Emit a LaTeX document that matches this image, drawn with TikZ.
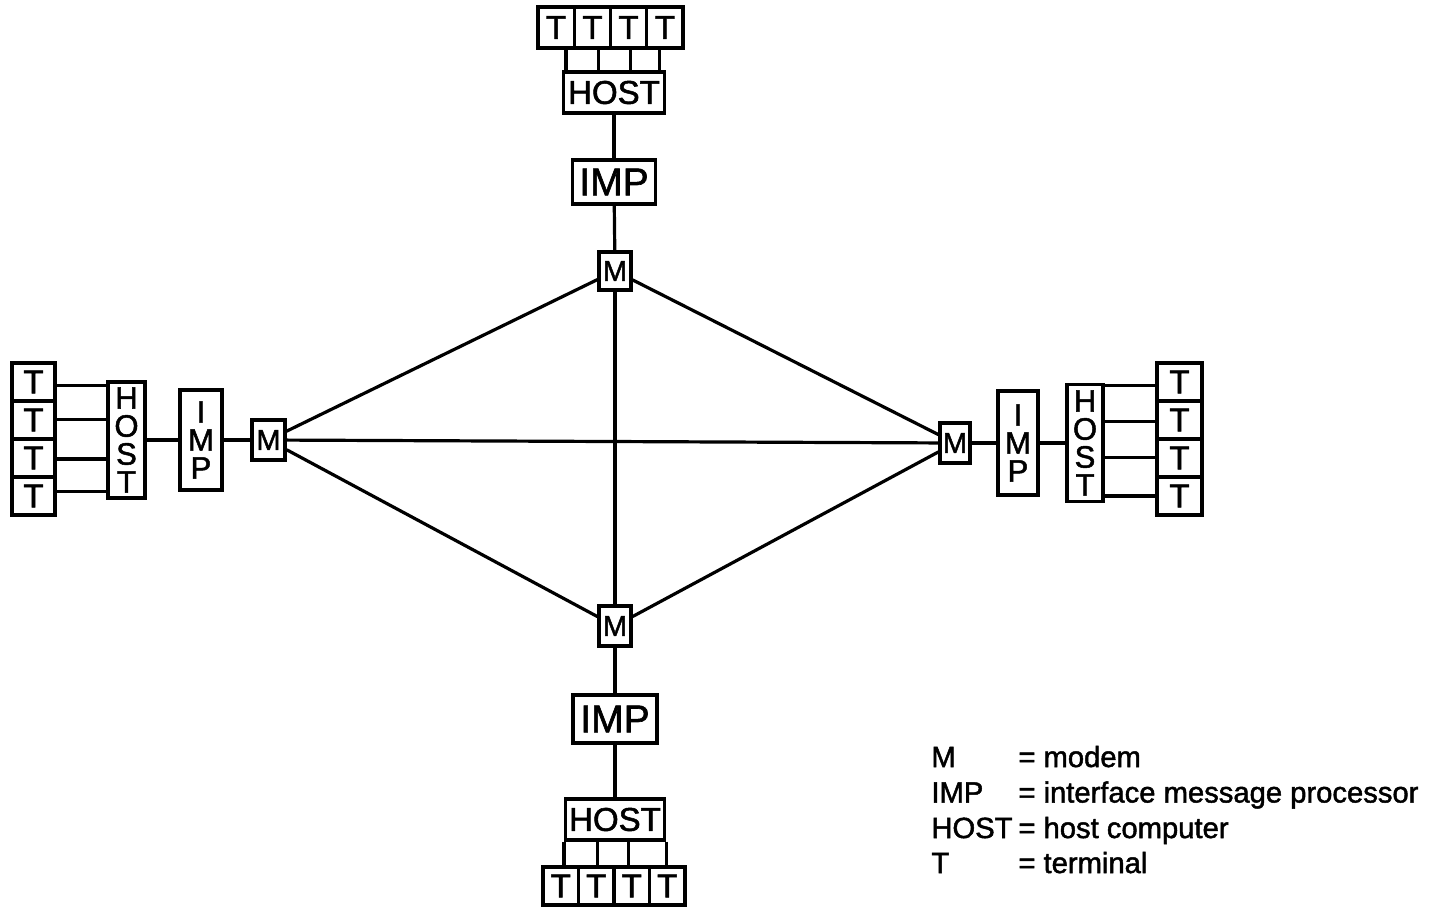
\documentclass[tikz,border=0pt]{standalone}
\usepackage{fontspec}
\setmainfont{Liberation Sans}[FakeBold=1.6]
\usetikzlibrary{calc}
\begin{document}
\begin{tikzpicture}[x=0.5pt,y=-0.5pt,
  box/.style={draw, line width=1.6pt, inner sep=0pt, rectangle, fill=white},
  ln/.style={line width=1.6pt},
  sz/.style 2 args={minimum width=#1*0.5pt, minimum height=#2*0.5pt},
  tfont/.style={font=\fontsize{16.5}{16.5}\selectfont},
  hfont/.style={font=\fontsize{16.5}{16.5}\selectfont},
  ifont/.style={font=\fontsize{19.5}{19.5}\selectfont},
  mfont/.style={font=\fontsize{14.5}{14.5}\selectfont},
  vfont/.style={font=\fontsize{15.5}{14}\selectfont, align=center},
  lfont/.style={font=\fontsize{14.6}{14.6}\selectfont, inner sep=0pt},
]
\useasboundingbox (0,0) rectangle (1434,907);

% ---------- diamond of modems
\node[box,sz={32}{38},mfont] (mT) at (615,271) {M};
\node[box,sz={32}{40},mfont] (mB) at (615,626) {M};
\node[box,sz={33}{40},mfont] (mL) at (268.5,440) {M};
\node[box,sz={30}{40},mfont] (mR) at (955,443) {M};
\draw[ln] (mT) -- (mL);
\draw[ln] (mT) -- (mR);
\draw[ln] (mL) -- (mB);
\draw[ln] (mR) -- (mB);
\draw[ln] (mT) -- (mB);
\draw[ln] (mL) -- (mR);

% ---------- top cluster
\node[box,sz={36.25}{41},tfont] (tT1) at (556.1,27.5) {T};
\node[box,sz={36.25}{41},tfont] (tT2) at (592.4,27.5) {T};
\node[box,sz={36.25}{41},tfont] (tT3) at (628.6,27.5) {T};
\node[box,sz={36.25}{41},tfont] (tT4) at (664.9,27.5) {T};
\node[box,sz={101}{41},hfont] (tH) at (614,92.5) {HOST};
\node[box,sz={83}{44},ifont] (tI) at (614,182) {IMP};
\foreach \i/\f in {1/0.04,2/0.35,3/0.66,4/0.94}{
  \coordinate (ta\i) at ($(tH.north west)!\f!(tH.north east)$);
  \draw[ln] (ta\i) -- (ta\i |- tT\i.south);
}
\draw[ln] (tH) -- (tI);
\draw[ln] (tI) -- (mT);

% ---------- bottom cluster
\node[box,sz={84}{48},ifont] (bI) at (615,719) {IMP};
\node[box,sz={99}{41},hfont] (bH) at (615,819.5) {HOST};
\node[box,sz={35.5}{38},tfont] (bT1) at (560.75,886) {T};
\node[box,sz={35.5}{38},tfont] (bT2) at (596.25,886) {T};
\node[box,sz={35.5}{38},tfont] (bT3) at (631.75,886) {T};
\node[box,sz={35.5}{38},tfont] (bT4) at (667.25,886) {T};
\foreach \i/\f in {1/0.0,2/0.33,3/0.63,4/1.0}{
  \coordinate (ba\i) at ($(bH.south west)!\f!(bH.south east)$);
  \draw[ln] (ba\i) -- (ba\i |- bT\i.north);
}
\draw[ln] (mB) -- (bI);
\draw[ln] (bI) -- (bH);

% ---------- left cluster
\node[box,sz={43}{38},tfont] (lT1) at (33.5,382) {T};
\node[box,sz={43}{38},tfont] (lT2) at (33.5,420) {T};
\node[box,sz={43}{38},tfont] (lT3) at (33.5,458) {T};
\node[box,sz={43}{38},tfont] (lT4) at (33.5,496) {T};
\node[box,sz={37}{116},vfont] (lH) at (126.5,440) {H\\O\\S\\T};
\node[box,sz={42}{100},vfont] (lI) at (201,440) {I\\M\\P};
\foreach \i/\f in {1/0.04,2/0.33,3/0.66,4/0.93}{
  \coordinate (la\i) at ($(lH.north west)!\f!(lH.south west)$);
  \draw[ln] (la\i) -- (la\i -| lT\i.east);
}
\draw[ln] (lH) -- (lI);
\draw[ln] (lI) -- (mL);

% ---------- right cluster
\node[box,sz={40}{104},vfont] (rI) at (1018,443) {I\\M\\P};
\node[box,sz={36}{117},vfont] (rH) at (1085,443) {H\\O\\S\\T};
\node[box,sz={45}{38},tfont] (rT1) at (1179.5,382) {T};
\node[box,sz={45}{38},tfont] (rT2) at (1179.5,420) {T};
\node[box,sz={45}{38},tfont] (rT3) at (1179.5,458) {T};
\node[box,sz={45}{38},tfont] (rT4) at (1179.5,496) {T};
\foreach \i/\f in {1/0.02,2/0.32,3/0.62,4/0.94}{
  \coordinate (ra\i) at ($(rH.north east)!\f!(rH.south east)$);
  \draw[ln] (ra\i) -- (ra\i -| rT\i.west);
}
\draw[ln] (mR) -- (rI);
\draw[ln] (rI) -- (rH);

% ---------- legend
\node[lfont,anchor=base west] (k1) at (931,767) {M};
\node[lfont,anchor=base west] (k2) at (931,802.5) {IMP};
\node[lfont,anchor=base west] (k3) at (931,838) {HOST};
\node[lfont,anchor=base west] (k4) at (931,873) {T};
\node[lfont,anchor=base west] (v1) at (1018,767) {= modem};
\node[lfont,anchor=base west] (v2) at (1018,802.5) {= interface message processor};
\node[lfont,anchor=base west] (v3) at (1018,838) {= host computer};
\node[lfont,anchor=base west] (v4) at (1018,873) {= terminal};
\end{tikzpicture}
\end{document}
